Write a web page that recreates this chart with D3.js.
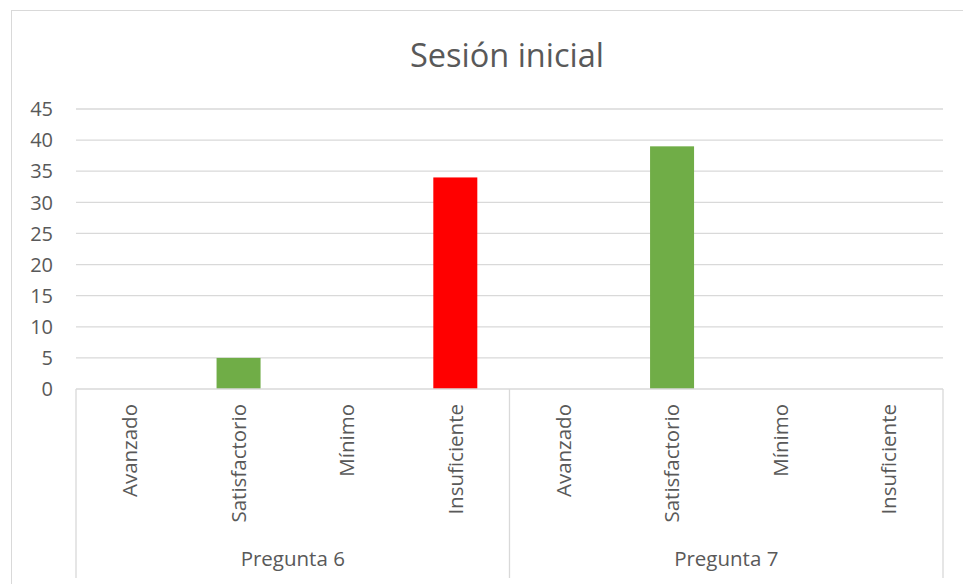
<!DOCTYPE html>
<html><head><meta charset="utf-8">
<script src="https://cdn.jsdelivr.net/npm/d3@7"></script>
<style>body{margin:0;background:#fff}svg{display:block}text{font-family:"Open Sans",sans-serif;fill:#595959}</style>
</head><body>
<svg id="c" width="963" height="584"></svg>
<script>
const title = "Sesión inicial";
const groups = ["Pregunta 6", "Pregunta 7"];
const levels = ["Avanzado", "Satisfactorio", "Mínimo", "Insuficiente"];
const values = [[0, 5, 0, 34], [0, 39, 0, 0]];
const barColors = [["#70ad47", "#70ad47", "#ff0000", "#ff0000"], ["#70ad47", "#70ad47", "#70ad47", "#70ad47"]];
const yTicks = [0, 5, 10, 15, 20, 25, 30, 35, 40, 45];

const svg = d3.select("#c");
const x0 = 76, x1 = 943, y0 = 389, y1 = 109;

svg.append("rect").attr("x", 11.5).attr("y", 10.5).attr("width", 960).attr("height", 600)
  .attr("fill", "#fff").attr("stroke", "#d9d9d9");

const rows = [];
groups.forEach((g, gi) => levels.forEach((l, li) => rows.push({key: g + "|" + l, g, l, v: values[gi][li], c: barColors[gi][li]})));
const x = d3.scaleBand().domain(rows.map(d => d.key)).range([x0, x1]).paddingInner(0.594).paddingOuter(0.297);
const xs = d3.scaleBand().domain(rows.map(d => d.key)).range([x0, x1]);
const y = d3.scaleLinear().domain([0, 45]).range([y0, y1]);

// gridlines
svg.append("g").selectAll("line").data(yTicks.filter(t => t > 0)).join("line")
  .attr("x1", x0).attr("x2", x1).attr("y1", d => y(d)).attr("y2", d => y(d))
  .attr("stroke", "#d9d9d9").attr("stroke-width", 1.3);

// y labels
svg.append("g").selectAll("text").data(yTicks).join("text")
  .attr("x", 53).attr("y", d => y(d)).attr("dy", "0.36em").attr("text-anchor", "end")
  .style("font-size", "20px").text(d => d);

// bars
svg.append("g").selectAll("rect").data(rows.filter(d => d.v > 0)).join("rect")
  .attr("x", d => x(d.key)).attr("width", x.bandwidth())
  .attr("y", d => y(d.v)).attr("height", d => y(0) - y(d.v))
  .attr("fill", d => d.c);

// axis baseline
svg.append("line").attr("x1", x0).attr("x2", x1).attr("y1", y0).attr("y2", y0).attr("stroke", "#d9d9d9").attr("stroke-width", 1.3);
// group separators
const sepX = [x0, xs(rows[4].key), x1];
svg.append("g").selectAll("line").data(sepX).join("line")
  .attr("x1", d => d).attr("x2", d => d).attr("y1", y0).attr("y2", 578)
  .attr("stroke", "#d9d9d9").attr("stroke-width", 1.3);

// category labels
svg.append("g").selectAll("text").data(rows).join("text")
  .attr("transform", d => `translate(${xs(d.key) + xs.bandwidth() / 2},404) rotate(-90)`)
  .attr("dy", "0.35em")
  .attr("text-anchor", "end").style("font-size", "20.5px").text(d => d.l);

// group labels
svg.append("g").selectAll("text").data(groups).join("text")
  .attr("x", (g, i) => (sepX[i] + sepX[i + 1]) / 2).attr("y", 566).attr("text-anchor", "middle")
  .style("font-size", "20.5px").text(d => d);

// title
svg.append("text").attr("x", 507).attr("y", 67).attr("text-anchor", "middle")
  .style("font-size", "32.5px").text(title);
</script>
</body></html>
